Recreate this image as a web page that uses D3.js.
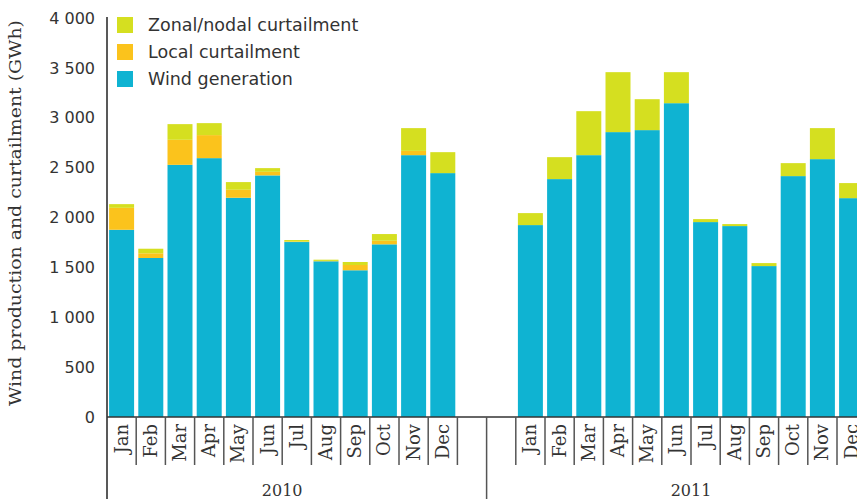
<!doctype html>
<html>
  <head>
    <meta charset="utf-8" />
    <title>Wind production and curtailment</title>
    <style>
      html, body { margin: 0; padding: 0; background: #fff; }
      svg { display: block; }
      text { font-family: "DejaVu Sans", sans-serif; fill: #333; }
      .month, .year, .ytitle { font-family: "DejaVu Serif", serif; }
    </style>
  </head>
  <body>
    <svg id="chart"></svg>
    <script src="https://d3js.org/d3.v7.min.js"></script>
    <script>
      // values (GWh)
      const months = ["Jan", "Feb", "Mar", "Apr", "May", "Jun", "Jul", "Aug", "Sep", "Oct", "Nov", "Dec"];
      const years = ["2010", "2011"];
      const wind2010 = [1877, 1594, 2528, 2595, 2198, 2422, 1754, 1561, 1471, 1731, 2625, 2445];
      const local2010 = [220, 47, 251, 231, 80, 36, 5, 4, 53, 36, 43, 0];
      const zonal2010 = [37, 46, 157, 120, 77, 37, 15, 12, 30, 67, 228, 210];
      const wind2011 = [1924, 2385, 2625, 2856, 2876, 3146, 1954, 1914, 1513, 2415, 2585, 2194];
      const local2011 = [0, 0, 0, 0, 0, 0, 0, 0, 0, 0, 0, 0];
      const zonal2011 = [120, 220, 441, 601, 310, 311, 30, 20, 30, 130, 311, 151];
      const yTicks = [0, 500, 1000, 1500, 2000, 2500, 3000, 3500, 4000];

      const series = [
        { key: "zonal", label: "Zonal/nodal curtailment", color: "#d5df20" },
        { key: "local", label: "Local curtailment", color: "#fbc31c" },
        { key: "wind", label: "Wind generation", color: "#0fb3d2" },
      ];

      const width = 857, height = 499;
      const svg = d3.select("#chart").attr("width", width).attr("height", height);

      // rows: 12 months, two empty slots, 12 months
      const rows = [];
      months.forEach((m, i) => rows.push({ id: "2010-" + m, month: m, wind: wind2010[i], local: local2010[i], zonal: zonal2010[i] }));
      rows.push({ id: "gap1" }, { id: "gap2" });
      months.forEach((m, i) => rows.push({ id: "2011-" + m, month: m, wind: wind2011[i], local: local2011[i], zonal: zonal2011[i] }));
      const data = rows.filter((d) => d.month);

      const x0 = 107, y0 = 417;
      const x = d3
        .scaleBand()
        .domain(rows.map((d) => d.id))
        .range([x0, x0 + 26 * 29.2])
        .paddingInner(0.144)
        .paddingOuter(0.072);
      const y = d3.scaleLinear().domain([0, 4000]).range([y0, 18]);

      const step = x.step();
      const slotStart = (id) => x(id) - (step * x.paddingInner()) / 2;

      const stack = d3.stack().keys(["wind", "local", "zonal"])(data);
      const colorOf = {};
      series.forEach((s) => (colorOf[s.key] = s.color));

      svg
        .append("g")
        .selectAll("g")
        .data(stack)
        .join("g")
        .attr("fill", (s) => colorOf[s.key])
        .selectAll("rect")
        .data((s) => s)
        .join("rect")
        .attr("x", (d) => x(d.data.id))
        .attr("width", x.bandwidth())
        .attr("y", (d) => y(d[1]))
        .attr("height", (d) => Math.max(0, y(d[0]) - y(d[1])));

      // y axis
      const locale = d3.formatLocale({ decimal: ".", thousands: "\u2009", grouping: [3], currency: ["", ""] });
      const fmt = (v) => locale.format(",")(v).replace("\u2009", " ");
      const yAxis = svg
        .append("g")
        .attr("transform", `translate(${x0},0)`)
        .call(d3.axisLeft(y).tickValues(yTicks).tickFormat(fmt).tickSize(0).tickPadding(12));
      yAxis.select(".domain").remove();
      yAxis.selectAll("text").attr("font-size", 16).attr("font-family", "DejaVu Sans, sans-serif").attr("fill", "#333");

      svg
        .append("line")
        .attr("x1", x0).attr("x2", x0)
        .attr("y1", y(4000) - 1).attr("y2", height)
        .attr("stroke", "#222").attr("stroke-width", 1.5);

      svg
        .append("text")
        .attr("class", "ytitle")
        .attr("transform", "translate(21,213) rotate(-90)")
        .attr("text-anchor", "middle")
        .attr("font-size", 17)
        .attr("textLength", 386)
        .attr("lengthAdjust", "spacingAndGlyphs")
        .text("Wind production and curtailment (GWh)");

      // x axis
      svg
        .append("line")
        .attr("x1", x0).attr("x2", width)
        .attr("y1", y0).attr("y2", y0)
        .attr("stroke", "#333").attr("stroke-width", 1.5);

      const bounds = rows.map((d) => slotStart(d.id));
      svg
        .append("g")
        .selectAll("line")
        .data(bounds.slice(1))
        .join("line")
        .attr("x1", (d) => d).attr("x2", (d) => d)
        .attr("y1", y0)
        .attr("y2", (d, i) => (i === 12 ? height : y0 + 48))
        .attr("stroke", "#555").attr("stroke-width", 1.5);

      svg
        .append("g")
        .selectAll("text")
        .data(data)
        .join("text")
        .attr("class", "month")
        .attr("transform", (d) => `translate(${x(d.id) + x.bandwidth() / 2 + 6},${y0 + 7}) rotate(-90)`)
        .attr("text-anchor", "end")
        .attr("font-size", 18)
        .attr("fill", "#333")
        .text((d) => d.month);

      svg
        .append("g")
        .selectAll("text")
        .data(years)
        .join("text")
        .attr("class", "year")
        .attr("x", (d, i) => slotStart(d + "-Jan") + 6 * step)
        .attr("y", 496)
        .attr("text-anchor", "middle")
        .attr("font-size", 16)
        .text((d) => d);

      // legend
      const legend = svg
        .append("g")
        .selectAll("g")
        .data(series)
        .join("g")
        .attr("transform", (d, i) => `translate(117,${17 + i * 27})`);
      legend.append("rect").attr("width", 16).attr("height", 16).attr("fill", (d) => d.color);
      legend
        .append("text")
        .attr("x", 31)
        .attr("y", 8)
        .attr("dy", "0.35em")
        .attr("font-size", 17.5)
        .text((d) => d.label);
    </script>
  </body>
</html>
